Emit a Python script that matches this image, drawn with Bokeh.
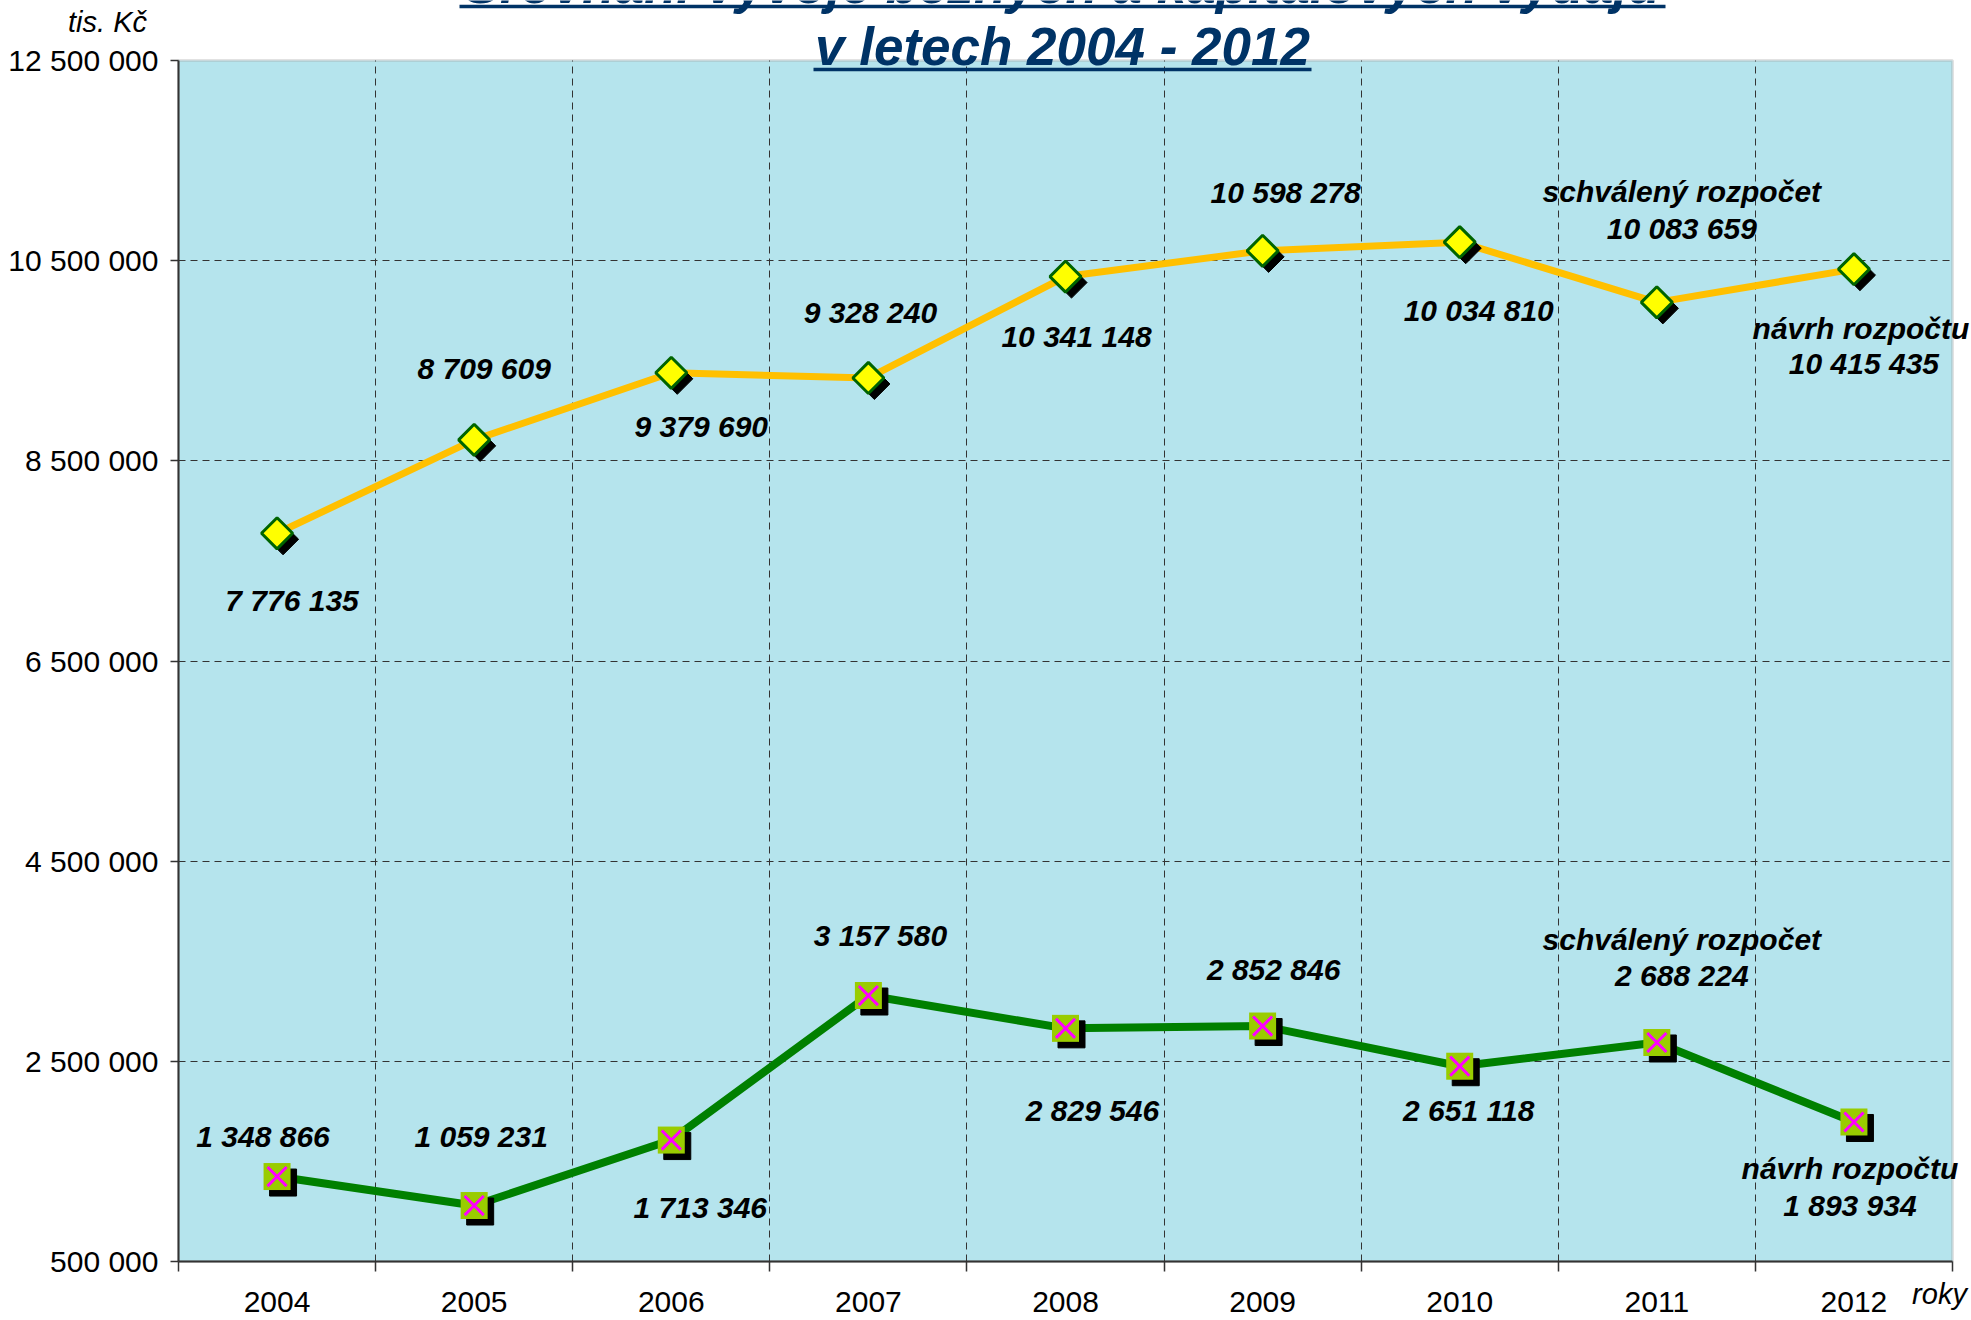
from bokeh.plotting import figure
from bokeh.models import (ColumnDataSource, FixedTicker, Label, Arrow, Range1d, BoxAnnotation)
from bokeh.transform import dodge
from bokeh.core.properties import value
from bokeh.embed import file_html
from bokeh.resources import INLINE

# ---------------- data ----------------
years = ["2004", "2005", "2006", "2007", "2008", "2009", "2010", "2011", "2012"]
bezne_vydaje = [7776135, 8709609, 9379690, 9328240, 10341148, 10598278, 10685000, 10083659, 10415435]
kapitalove_vydaje = [1348866, 1059231, 1713346, 3157580, 2829546, 2852846, 2451118, 2688224, 1893934]
bezne_popisky = ["7 776 135", "8 709 609", "9 379 690", "9 328 240", "10 341 148",
                 "10 598 278", "10 034 810", "10 083 659", "10 415 435"]
kapitalove_popisky = ["1 348 866", "1 059 231", "1 713 346", "3 157 580", "2 829 546",
                      "2 852 846", "2 651 118", "2 688 224", "1 893 934"]
y_ticks = [500000, 2500000, 4500000, 6500000, 8500000, 10500000, 12500000]
title_lines = ["Srovnání vývoje běžných a kapitálových výdajů", "v letech 2004 - 2012"]
y_unit = "tis. Kč"
x_unit = "roky"
note_2011 = "schválený rozpočet"
note_2012 = "návrh rozpočtu"

# ---------------- layout ----------------
# pixel offsets of the data labels relative to their points
bezne_dx = [15, 10, 30, 2, 11, 23, 19, 25, 10]
bezne_dy = [67, -71, 54, -65, 60, -58, 68, -74, 94]
kap_dx = [-14, 7, 29, 12, 27, 11, 9, 25, -4]
kap_dy = [-40, -69, 67, -60, 82, -57, 44, -67, 84]

FONT = "Liberation Sans"
W, H = 1971, 1320
PL, PR, PT, PB = 178, 1952, 60, 1261          # plot-area edges in canvas pixels
N = len(years)
YLO, YHI = y_ticks[0], y_ticks[-1]
kx = N / (PR - PL)                             # data units per pixel (x)
ky = (YHI - YLO) / (PB - PT)                   # data units per pixel (y)


def dx_(px):
    return (px - PL) * kx


def dy_(py):
    return YHI - (py - PT) * ky


xs = [i + 0.5 for i in range(N)]

p = figure(width=W, height=H, output_backend="svg", toolbar_location=None, tools="",
           x_range=Range1d(dx_(0), dx_(W)), y_range=Range1d(dy_(H), dy_(0)),
           min_border_left=0, min_border_right=0, min_border_top=0, min_border_bottom=0)
p.background_fill_color = "white"
p.border_fill_color = "white"
p.outline_line_color = None

# plot area
p.add_layout(BoxAnnotation(left=0, right=N, bottom=YLO, top=YHI, fill_color="#B5E4ED",
                           fill_alpha=1.0, line_color="#A0A0A0", line_width=3, level="image"))

# x axis: labels at centres, tick marks at category boundaries
xt = FixedTicker(ticks=xs, minor_ticks=list(range(N + 1)))
xa = p.xaxis[0]
xa.fixed_location = YLO
xa.bounds = (0, N)
xa.ticker = xt
xa.major_label_overrides = {x: y for x, y in zip(xs, years)}
xa.major_tick_line_color = None
xa.major_tick_out = 0
xa.major_tick_in = 0
xa.minor_tick_line_color = "#333333"
xa.minor_tick_line_width = 1.5
xa.minor_tick_out = 10
xa.minor_tick_in = 0
xa.axis_line_color = "#333333"
xa.axis_line_width = 2
xa.major_label_text_font = FONT
xa.major_label_text_font_size = "30px"
xa.major_label_text_color = "black"
xa.major_label_standoff = 20

ya = p.yaxis[0]
ya.fixed_location = 0
ya.bounds = (YLO, YHI)
ya.ticker = FixedTicker(ticks=y_ticks)
ya.major_label_overrides = {t: f"{t:,}".replace(",", " ") for t in y_ticks}
ya.minor_tick_line_color = None
ya.major_tick_out = 8
ya.major_tick_in = 0
ya.major_tick_line_color = "#333333"
ya.major_tick_line_width = 1.5
ya.axis_line_color = "#333333"
ya.axis_line_width = 2
ya.major_label_text_font = FONT
ya.major_label_text_font_size = "30px"
ya.major_label_text_color = "black"
ya.major_label_standoff = 12

xg = p.xgrid[0]
xg.ticker = FixedTicker(ticks=[], minor_ticks=list(range(1, N)))
xg.bounds = (0, N)
xg.cross_bounds = (YLO, YHI)
xg.grid_line_color = None
xg.minor_grid_line_color = "#333333"
xg.minor_grid_line_dash = "7 5"
xg.minor_grid_line_width = 1

yg = p.ygrid[0]
yg.ticker = FixedTicker(ticks=y_ticks[1:-1])
yg.bounds = (YLO, YHI)
yg.cross_bounds = (0, N)
yg.grid_line_color = "#333333"
yg.grid_line_dash = "7 5"
yg.grid_line_width = 1

src = ColumnDataSource(dict(x=xs, b=bezne_vydaje, k=kapitalove_vydaje))

# shadow offsets: ~6 px right and down
sx = 6 * kx
sy = 6 * ky

# běžné výdaje (yellow)
p.line("x", "b", source=src, line_color="#FFC000", line_width=7)
p.scatter(dodge("x", sx), dodge("b", -sy), source=src, marker="square", angle=0.785398,
          size=22, fill_color="black", line_color="black")
p.scatter("x", "b", source=src, marker="square", angle=0.785398, size=22,
          fill_color="#FFFF00", line_color="#006400", line_width=3)

# kapitálové výdaje (green)
p.line("x", "k", source=src, line_color="#008000", line_width=8)
p.scatter(dodge("x", sx), dodge("k", -sy), source=src, marker="square", size=27,
          fill_color="black", line_color="black")
p.scatter("x", "k", source=src, marker="square", size=27, fill_color="#99CC00", line_color=None)
p.scatter("x", "k", source=src, marker="x", size=27, line_color="#FF00FF", line_width=3)

# data labels
lab_x, lab_y, lab_t, lab_dx, lab_dy = [], [], [], [], []
for i in range(N):
    lab_x.append(xs[i]); lab_y.append(bezne_vydaje[i]); lab_t.append(bezne_popisky[i])
    lab_dx.append(bezne_dx[i]); lab_dy.append(bezne_dy[i])
    lab_x.append(xs[i]); lab_y.append(kapitalove_vydaje[i]); lab_t.append(kapitalove_popisky[i])
    lab_dx.append(kap_dx[i]); lab_dy.append(kap_dy[i])
lab_x += [xs[7], xs[8], xs[7], xs[8]]
lab_y += [bezne_vydaje[7], bezne_vydaje[8], kapitalove_vydaje[7], kapitalove_vydaje[8]]
lab_t += [note_2011, note_2012, note_2011, note_2012]
lab_dx += [25, 7, 25, -4]
lab_dy += [-111, 59, -103, 47]

lsrc = ColumnDataSource(dict(x=lab_x, y=lab_y, text=lab_t, dx=lab_dx, dy=lab_dy))
p.text("x", "y", text="text", x_offset="dx", y_offset="dy", source=lsrc,
       text_font=value(FONT), text_font_style="bold italic", text_font_size="30px",
       text_color="black", text_align="center", text_baseline="middle")

# title (Label anchor sits ~19 px above the glyph baseline at this size)
for txt, base in zip(title_lines, [-16, 46]):
    p.add_layout(Label(x=dx_(1062), y=dy_(base), text=txt, text_font=FONT,
                       text_font_size="53px", text_font_style="bold italic",
                       text_color="#003366", text_align="center", text_baseline="alphabetic"))
p.add_layout(Arrow(end=None, x_start=dx_(459), x_end=dx_(1665), y_start=dy_(6), y_end=dy_(6),
                   line_color="#003366", line_width=3.5))
p.add_layout(Arrow(end=None, x_start=dx_(813), x_end=dx_(1311), y_start=dy_(69), y_end=dy_(69),
                   line_color="#003366", line_width=3.5))

# units
p.add_layout(Label(x=dx_(107), y=dy_(21), text=y_unit, text_font=FONT, text_font_size="29px",
                   text_font_style="italic", text_color="black", text_align="center",
                   text_baseline="alphabetic"))
p.add_layout(Label(x=dx_(1939), y=dy_(1293), text=x_unit, text_font=FONT, text_font_size="29px",
                   text_font_style="italic", text_color="black", text_align="center",
                   text_baseline="alphabetic"))

open("out.html", "w").write(file_html(p, INLINE))
